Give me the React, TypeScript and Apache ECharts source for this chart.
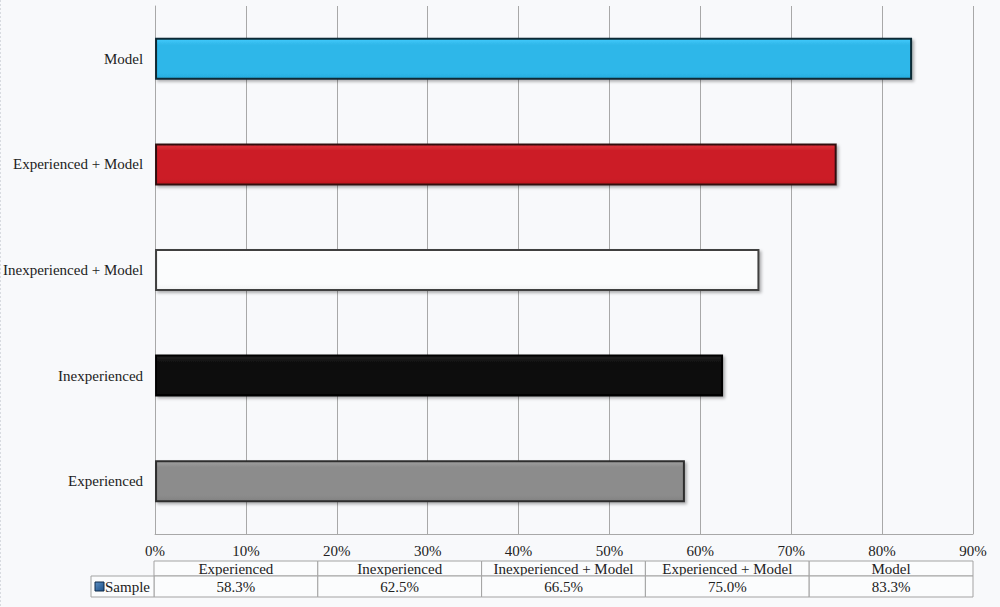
import React, { useEffect, useRef } from "react";
import * as echarts from "echarts";

const categories = ["Experienced", "Inexperienced", "Inexperienced + Model", "Experienced + Model", "Model"];
const sampleValues = [58.3, 62.5, 66.5, 75.0, 83.3];
const barColors = ["#8c8c8c", "#111111", "#fbfcfd", "#cc1f28", "#2fb7e9"];
const borderColors = ["#2e2e2e", "#000000", "#404040", "#301010", "#0c2a34"];
const seriesName = "Sample";

const W = 1000;
const H = 607;
const GL = 154;
const GR = 973;
const GT = 6;
const GB = 534;
const FONT = "Liberation Serif, Times New Roman, DejaVu Serif, serif";
const FS = 15;

function lighten(hex: string, amt: number) {
  const n = parseInt(hex.slice(1), 16);
  const r = Math.max(0, Math.min(255, ((n >> 16) & 255) + amt));
  const g = Math.max(0, Math.min(255, ((n >> 8) & 255) + amt));
  const b = Math.max(0, Math.min(255, (n & 255) + amt));
  return `rgb(${r},${g},${b})`;
}

export default function App() {
  const ref = useRef<HTMLDivElement>(null);
  useEffect(() => {
    document.body.style.margin = "0";
    const chart = echarts.init(ref.current!, null, { renderer: "svg" });
    const colW = (GR - GL) / categories.length;
    const hTop = 561;
    const hBot = 576;
    const vBot = 597;
    const sampleLeft = 91;
    const border = "#a3a3a3";
    const txt = (text: string, x: number, y: number, align: string) => ({
      type: "text",
      x,
      y,
      style: { text, fill: "#222", fontFamily: FONT, fontSize: FS, align, verticalAlign: "middle" },
    });
    const g: any[] = [];
    categories.forEach((c, i) => {
      const x = GL + i * colW;
      g.push({
        type: "rect",
        shape: { x: x, y: hTop, width: colW, height: hBot - hTop },
        style: { fill: "#fbfcfd", stroke: border, lineWidth: 1 },
      });
      g.push(txt(c, x + colW / 2, (hTop + hBot) / 2 + 0.5, "center"));
      g.push({
        type: "rect",
        shape: { x: x, y: hBot, width: colW, height: vBot - hBot },
        style: { fill: "#fbfcfd", stroke: border, lineWidth: 1 },
      });
      g.push(txt(sampleValues[i].toFixed(1) + "%", x + colW / 2, (hBot + vBot) / 2, "center"));
    });
    g.push({
      type: "rect",
      shape: { x: sampleLeft, y: hBot, width: GL - sampleLeft, height: vBot - hBot },
      style: { fill: "#fbfcfd", stroke: border, lineWidth: 1 },
    });
    g.push({
      type: "rect",
      shape: { x: sampleLeft + 4, y: (hBot + vBot) / 2 - 4.5, width: 9, height: 9 },
      style: {
        fill: new echarts.graphic.LinearGradient(0, 0, 1, 1, [
          { offset: 0, color: "#5b8fc4" },
          { offset: 1, color: "#1d4f86" },
        ]),
        stroke: "#0f2a4a",
        lineWidth: 1,
      },
    });
    g.push(txt(seriesName, sampleLeft + 14, (hBot + vBot) / 2, "left"));
    g.push({
      type: "line",
      shape: { x1: 0.5, y1: 0, x2: 0.5, y2: H },
      style: { stroke: "#d8dbe0", lineWidth: 1, lineDash: [2, 2] },
    });

    chart.setOption({
      animation: false,
      backgroundColor: "#f8f9fb",
      textStyle: { fontFamily: FONT },
      grid: { left: GL, right: W - GR, top: GT, bottom: H - GB, containLabel: false },
      xAxis: {
        type: "value",
        min: 0,
        max: 90,
        interval: 10,
        axisLine: { show: true, lineStyle: { color: "#a8a8a8", width: 1 } },
        axisTick: { show: false },
        splitLine: { show: true, lineStyle: { color: "#a8a8a8", width: 1 } },
        axisLabel: {
          formatter: (v: number) => `${v}%`,
          color: "#222",
          fontFamily: FONT,
          fontSize: FS,
          margin: 9,
          showMaxLabel: true,
          showMinLabel: true,
        },
      },
      yAxis: {
        type: "category",
        data: categories,
        axisLine: { show: true, lineStyle: { color: "#a8a8a8", width: 1 } },
        axisTick: { show: false },
        splitLine: { show: false },
        axisLabel: { color: "#222", fontFamily: FONT, fontSize: FS, margin: 12 },
      },
      series: [
        {
          name: seriesName,
          type: "bar",
          barWidth: 42,
          data: sampleValues.map((v, i) => ({
            value: v,
            itemStyle: {
              color: new echarts.graphic.LinearGradient(0, 0, 0, 1, [
                { offset: 0, color: lighten(barColors[i], 20) },
                { offset: 0.15, color: barColors[i] },
                { offset: 0.85, color: barColors[i] },
                { offset: 1, color: lighten(barColors[i], -10) },
              ]),
              borderColor: borderColors[i],
              borderWidth: 2,
              shadowColor: "rgba(0,0,0,0.3)",
              shadowBlur: 3,
              shadowOffsetX: 2,
              shadowOffsetY: 2,
            },
          })),
        },
      ],
      graphic: g,
    });
    return () => chart.dispose();
  }, []);
  return <div ref={ref} style={{ width: W, height: H }} />;
}
